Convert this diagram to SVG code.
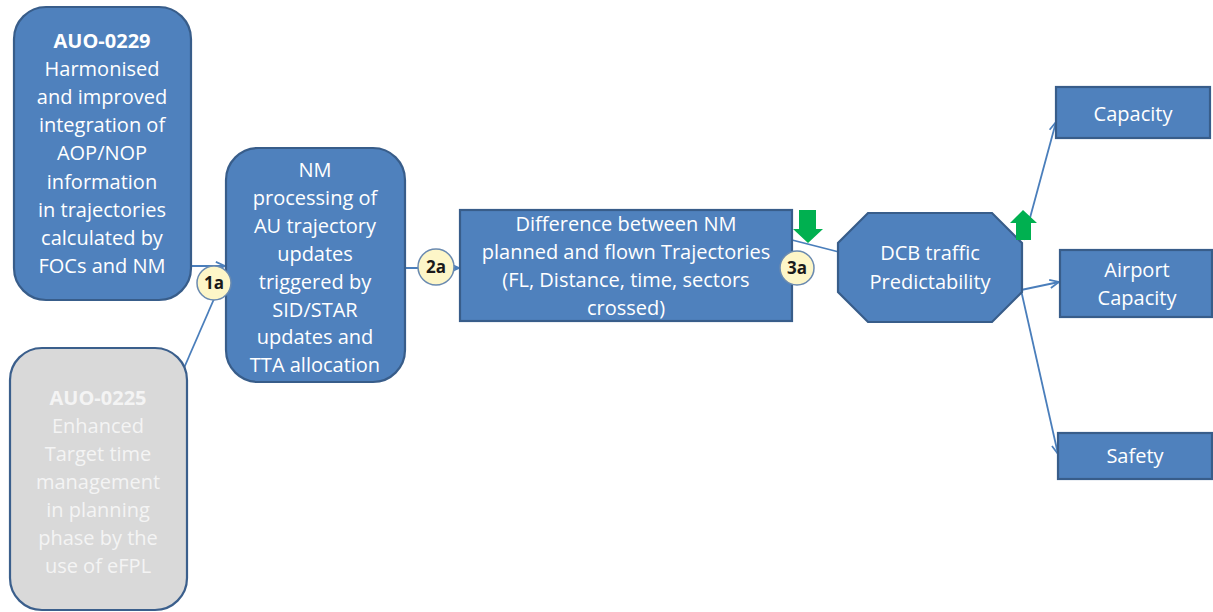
<svg xmlns="http://www.w3.org/2000/svg" width="1213" height="612" viewBox="0 0 1213 612">
  <defs>
    <style>
      .box { fill: #4f81bd; stroke: #385d8a; stroke-width: 2.2; }
      .grey { fill: #d9d9d9; stroke: #3b5f8c; stroke-width: 2.2; }
      .lbl { font-family: "Open Sans", "Liberation Sans", sans-serif; font-size: 20px; fill: #ffffff; text-anchor: middle; }
      .lbl-grey { fill: #f4f4f4; }
      .b { font-weight: bold; }
      .link { fill: none; stroke: #4a7ebb; stroke-width: 1.8; }
      .tag { fill: #fdf6c8; stroke: #6a8ab0; stroke-width: 1.5; }
      .tagtxt { font-family: "Open Sans", "Liberation Sans", sans-serif; font-size: 17px; font-weight: bold; fill: #1a1a1a; text-anchor: middle; }
      .green { fill: #00b050; }
    </style>
    <marker id="arr" viewBox="0 0 12 12" refX="11" refY="6" markerWidth="11" markerHeight="11" markerUnits="userSpaceOnUse" orient="auto">
      <path d="M1,1.5 L11,6 L1,10.5" fill="none" stroke="#4a7ebb" stroke-width="1.9"/>
    </marker>
  </defs>

  <!-- connectors -->
  <g id="connectors">
    <line class="link" x1="190" y1="266" x2="225" y2="266" marker-end="url(#arr)"/>
    <line class="link" x1="184" y1="368" x2="224" y2="276"/>
    <line class="link" x1="405" y1="268" x2="459" y2="268" marker-end="url(#arr)"/>
    <line class="link" x1="792" y1="240" x2="839" y2="252"/>
    <line class="link" x1="1024" y1="240" x2="1056" y2="122" marker-end="url(#arr)"/>
    <line class="link" x1="1021" y1="290" x2="1059" y2="282" marker-end="url(#arr)"/>
    <line class="link" x1="1021" y1="290" x2="1058" y2="454" marker-end="url(#arr)"/>
  </g>

  <!-- AUO-0229 -->
  <g id="auo0229">
    <rect class="box" x="14" y="7" width="177" height="293" rx="32"/>
    <text class="lbl" x="102" y="48"><tspan class="b">AUO-0229</tspan><tspan x="102" dy="28.1">Harmonised</tspan><tspan x="102" dy="28.1">and improved</tspan><tspan x="102" dy="28.1">integration of</tspan><tspan x="102" dy="28.1">AOP/NOP</tspan><tspan x="102" dy="28.1">information</tspan><tspan x="102" dy="28.1">in trajectories</tspan><tspan x="102" dy="28.1">calculated by</tspan><tspan x="102" dy="28.1">FOCs and NM</tspan></text>
  </g>

  <!-- AUO-0225 -->
  <g id="auo0225">
    <rect class="grey" x="10" y="348" width="177" height="262" rx="32"/>
    <text class="lbl lbl-grey" x="98" y="405"><tspan class="b">AUO-0225</tspan><tspan x="98" dy="28">Enhanced</tspan><tspan x="98" dy="28">Target time</tspan><tspan x="98" dy="28">management</tspan><tspan x="98" dy="28">in planning</tspan><tspan x="98" dy="28">phase by the</tspan><tspan x="98" dy="28">use of eFPL</tspan></text>
  </g>

  <!-- NM processing -->
  <g id="nm-processing">
    <rect class="box" x="226" y="148" width="179" height="234" rx="32"/>
    <text class="lbl" x="315" y="177"><tspan>NM</tspan><tspan x="315" dy="27.9">processing of</tspan><tspan x="315" dy="27.9">AU trajectory</tspan><tspan x="315" dy="27.9">updates</tspan><tspan x="315" dy="27.9">triggered by</tspan><tspan x="315" dy="27.9">SID/STAR</tspan><tspan x="315" dy="27.9">updates and</tspan><tspan x="315" dy="27.9">TTA allocation</tspan></text>
  </g>

  <!-- trajectory difference -->
  <g id="difference">
    <rect class="box" x="460" y="210" width="332" height="111"/>
    <text class="lbl" x="626" y="231"><tspan>Difference between NM</tspan><tspan x="626" dy="28">planned and flown Trajectories</tspan><tspan x="626" dy="28">(FL, Distance, time, sectors</tspan><tspan x="626" dy="28">crossed)</tspan></text>
  </g>

  <!-- DCB traffic predictability -->
  <g id="dcb">
    <polygon class="box" points="868,213 992,213 1022,243 1022,292 992,322 868,322 838,292 838,243"/>
    <text class="lbl" x="930" y="260"><tspan>DCB traffic</tspan><tspan x="930" dy="29">Predictability</tspan></text>
  </g>

  <!-- outcomes -->
  <g id="capacity">
    <rect class="box" x="1056" y="87" width="154" height="51"/>
    <text class="lbl" x="1133" y="121">Capacity</text>
  </g>
  <g id="airport-capacity">
    <rect class="box" x="1060" y="250" width="152" height="67"/>
    <text class="lbl" x="1137" y="277"><tspan>Airport</tspan><tspan x="1137" dy="28">Capacity</tspan></text>
  </g>
  <g id="safety">
    <rect class="box" x="1058" y="433" width="154" height="46"/>
    <text class="lbl" x="1135" y="463">Safety</text>
  </g>

  <!-- step markers -->
  <g id="step-1a">
    <circle class="tag" cx="214" cy="283" r="17"/>
    <text class="tagtxt" x="214" y="289">1a</text>
  </g>
  <g id="step-2a">
    <circle class="tag" cx="436" cy="267" r="18"/>
    <text class="tagtxt" x="436" y="273">2a</text>
  </g>
  <g id="step-3a">
    <circle class="tag" cx="797" cy="268" r="17"/>
    <text class="tagtxt" x="797" y="274">3a</text>
  </g>

  <!-- trend arrows -->
  <g id="trend-down">
    <polygon class="green" points="799,210 816,210 816,229 823,229 808,243 793,229 799,229"/>
  </g>
  <g id="trend-up">
    <polygon class="green" points="1023,210 1037,223 1031,223 1031,240 1016,240 1016,223 1010,223"/>
  </g>
</svg>
